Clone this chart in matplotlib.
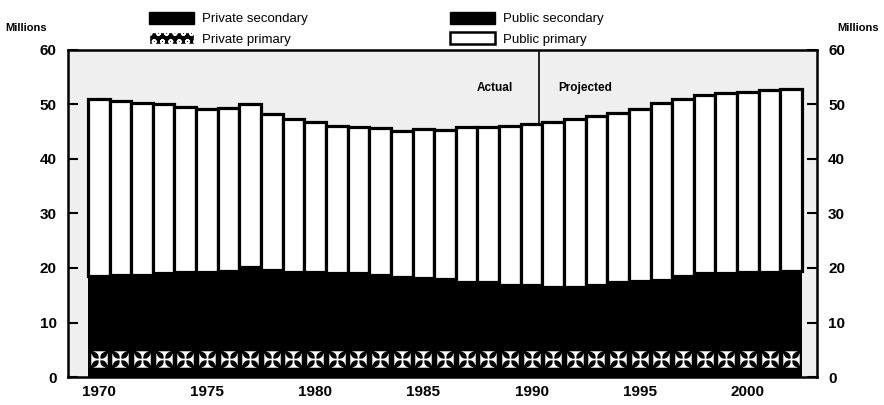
import numpy as np
import matplotlib
matplotlib.use("Agg")
import matplotlib.pyplot as plt
from matplotlib.patches import Patch

plt.rcParams['font.family'] = ['Liberation Sans', 'DejaVu Sans']
plt.rcParams['hatch.linewidth'] = 1.2

# fall enrollment, millions
years = list(range(1970, 2003))
total = [51.0, 50.7, 50.3, 50.0, 49.5, 49.2, 49.4, 50.0, 48.2, 47.4,
         46.7, 46.0, 45.9, 45.6, 45.1, 45.4, 45.3, 45.8, 45.8, 46.0,
         46.4, 46.7, 47.3, 47.9, 48.5, 49.2, 50.3, 51.0, 51.7, 52.0,
         52.3, 52.6, 52.8]
black_top = [18.6, 18.7, 18.8, 19.0, 19.2, 19.2, 19.4, 20.1, 19.6, 19.3,
             19.2, 19.0, 19.0, 18.7, 18.4, 18.2, 17.9, 17.4, 17.4, 16.9,
             16.9, 16.6, 16.6, 16.8, 17.4, 17.6, 17.8, 18.6, 19.0, 19.0,
             19.2, 19.3, 19.4]
private_secondary = [1.4] * len(years)
private_primary = [3.8] * len(years)
public_secondary = [b - ps - pp for b, ps, pp in zip(black_top, private_secondary, private_primary)]
public_primary = [t - b for t, b in zip(total, black_top)]
xtick_years = [1970, 1975, 1980, 1985, 1990, 1995, 2000]
last_actual = 1990

fig = plt.figure(figsize=(8.84, 4.05), dpi=100)
ax = fig.add_axes([0.0769, 0.069, 0.8473, 0.808])
ax.set_facecolor('#efefef')

x = np.array(years)
w = 1.0
b1 = np.array(private_secondary)
b2 = b1 + np.array(private_primary)
b3 = b2 + np.array(public_secondary)

ax.bar(x, private_secondary, w, color='black', linewidth=0)
ax.bar(x, private_primary, w, bottom=b1, color='black', linewidth=0)
# white pinwheel motif, one per bar
ax.scatter(x, b1 + np.array(private_primary) / 2, marker=r'$\maltese$', s=140,
           color='white', linewidths=0, zorder=3)
ax.bar(x, public_secondary, w, bottom=b2, color='black', linewidth=0)
ax.bar(x, public_primary, w, bottom=b3, color='white', edgecolor='black', linewidth=2.3)

# actual / projected divider
split = last_actual + 0.35
ax.plot([split, split], [total[years.index(last_actual)], 60], color='black', lw=1.2)
ax.text(split - 1.2, 53.0, 'Actual', ha='right', va='center', fontsize=8.5, fontweight='bold')
ax.text(split + 0.9, 53.0, 'Projected', ha='left', va='center', fontsize=8.5, fontweight='bold')

ax.set_xlim(1968.58, 2003.19)
ax.set_ylim(0, 60)
ax.set_yticks(range(0, 61, 10))
ax.set_xticks(xtick_years)
ax.tick_params(axis='y', direction='in', length=7, width=1.5, left=True, right=True,
               labelleft=True, labelright=True, labelsize=11, pad=8)
ax.tick_params(axis='x', length=0, labelsize=11, pad=6)
for lab in ax.get_xticklabels() + ax.get_yticklabels():
    lab.set_fontweight('bold')
for s in ax.spines.values():
    s.set_linewidth(1.8)

fig.text(0.006, 0.93, 'Millions', fontsize=8, fontweight='bold', va='center')
fig.text(0.947, 0.93, 'Millions', fontsize=8, fontweight='bold', va='center')

handles = [Patch(facecolor='black', edgecolor='black', label='Private secondary'),
           Patch(facecolor='black', edgecolor='white', hatch='oo', label='Private primary'),
           Patch(facecolor='black', edgecolor='black', label='Public secondary'),
           Patch(facecolor='white', edgecolor='black', linewidth=1.8, label='Public primary')]
fig.legend(handles=handles, ncol=2, loc='upper left', bbox_to_anchor=(0.155, 1.0),
           frameon=False, fontsize=9.5, handlelength=3.4, handleheight=1.05,
           columnspacing=10.8, labelspacing=0.5, handletextpad=0.6)

fig.savefig('out.png', dpi=100)
